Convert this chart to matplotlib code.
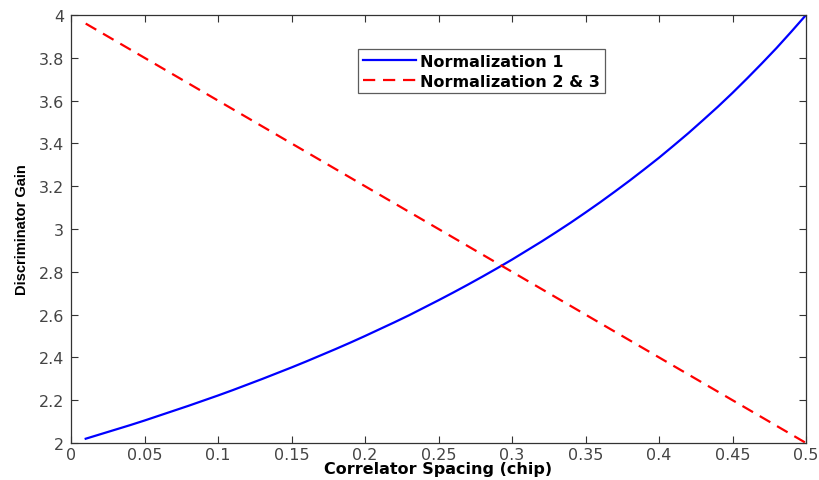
import matplotlib
matplotlib.use("Agg")
import matplotlib.pyplot as plt

plt.rcParams['font.family'] = ['DejaVu Sans']

# Correlator spacing (chip) and discriminator gain for normalization 1
spacing_n1 = [0.01, 0.02, 0.03, 0.04, 0.05, 0.06, 0.07, 0.08, 0.09, 0.10,
              0.11, 0.12, 0.13, 0.14, 0.15, 0.16, 0.17, 0.18, 0.19, 0.20,
              0.21, 0.22, 0.23, 0.24, 0.25, 0.26, 0.27, 0.28, 0.29, 0.30,
              0.31, 0.32, 0.33, 0.34, 0.35, 0.36, 0.37, 0.38, 0.39, 0.40,
              0.41, 0.42, 0.43, 0.44, 0.45, 0.46, 0.47, 0.48, 0.49, 0.50]
gain_n1 = [2.020, 2.041, 2.062, 2.083, 2.105, 2.128, 2.151, 2.174, 2.198, 2.222,
           2.247, 2.273, 2.299, 2.326, 2.353, 2.381, 2.410, 2.439, 2.469, 2.500,
           2.532, 2.564, 2.597, 2.632, 2.667, 2.703, 2.740, 2.778, 2.817, 2.857,
           2.899, 2.941, 2.985, 3.030, 3.077, 3.125, 3.175, 3.226, 3.279, 3.333,
           3.390, 3.448, 3.509, 3.571, 3.636, 3.704, 3.774, 3.846, 3.922, 4.000]

# Discriminator gain for normalizations 2 & 3
spacing_n23 = [0.01, 0.05, 0.10, 0.15, 0.20, 0.25, 0.30, 0.35, 0.40, 0.45, 0.50]
gain_n23 = [3.96, 3.80, 3.60, 3.40, 3.20, 3.00, 2.80, 2.60, 2.40, 2.20, 2.00]

x_ticks = [0, 0.05, 0.1, 0.15, 0.2, 0.25, 0.3, 0.35, 0.4, 0.45, 0.5]
x_tick_labels = ['0', '0.05', '0.1', '0.15', '0.2', '0.25', '0.3', '0.35', '0.4', '0.45', '0.5']
y_ticks = [2, 2.2, 2.4, 2.6, 2.8, 3, 3.2, 3.4, 3.6, 3.8, 4]
y_tick_labels = ['2', '2.2', '2.4', '2.6', '2.8', '3', '3.2', '3.4', '3.6', '3.8', '4']

fig = plt.figure(figsize=(8.19, 4.81), dpi=100)
ax = fig.add_axes([71 / 819, 1 - 444 / 481, (806 - 71) / 819, (444 - 16) / 481])

ax.plot(spacing_n1, gain_n1, color='#0000ff', lw=1.6, label='Normalization 1')
ax.plot(spacing_n23, gain_n23, color='#ff0000', lw=1.6, dashes=(5.5, 3.5),
        label='Normalization 2 & 3')

ax.set_xlim(0, 0.5)
ax.set_ylim(2, 4)
ax.set_xticks(x_ticks)
ax.set_xticklabels(x_tick_labels)
ax.set_yticks(y_ticks)
ax.set_yticklabels(y_tick_labels)

ax.tick_params(direction='in', top=True, right=True, length=5, width=0.8,
               labelsize=11.5, labelcolor='#444444', color='#333333')
ax.tick_params(axis='y', pad=5)
ax.tick_params(axis='x', pad=3)
for s in ax.spines.values():
    s.set_color('#333333')
    s.set_linewidth(0.9)

ax.set_xlabel('Correlator Spacing (chip)', fontsize=11.5, fontweight='bold', labelpad=-1)
ax.set_ylabel('Discriminator Gain', fontsize=10.5, fontweight='bold',
              family=['Liberation Sans Narrow', 'Liberation Sans', 'DejaVu Sans'],
              labelpad=7)

leg = ax.legend(loc='upper left', bbox_to_anchor=((358 - 71) / 735, 1 - (50 - 16) / 428),
                prop={'weight': 'bold', 'size': 11.5}, frameon=True, fancybox=False,
                edgecolor='#333333', borderpad=0.3, labelspacing=0.3,
                handlelength=3.3, handletextpad=0.3, borderaxespad=0)
leg.get_frame().set_linewidth(0.9)

fig.savefig('out.png', dpi=100)
